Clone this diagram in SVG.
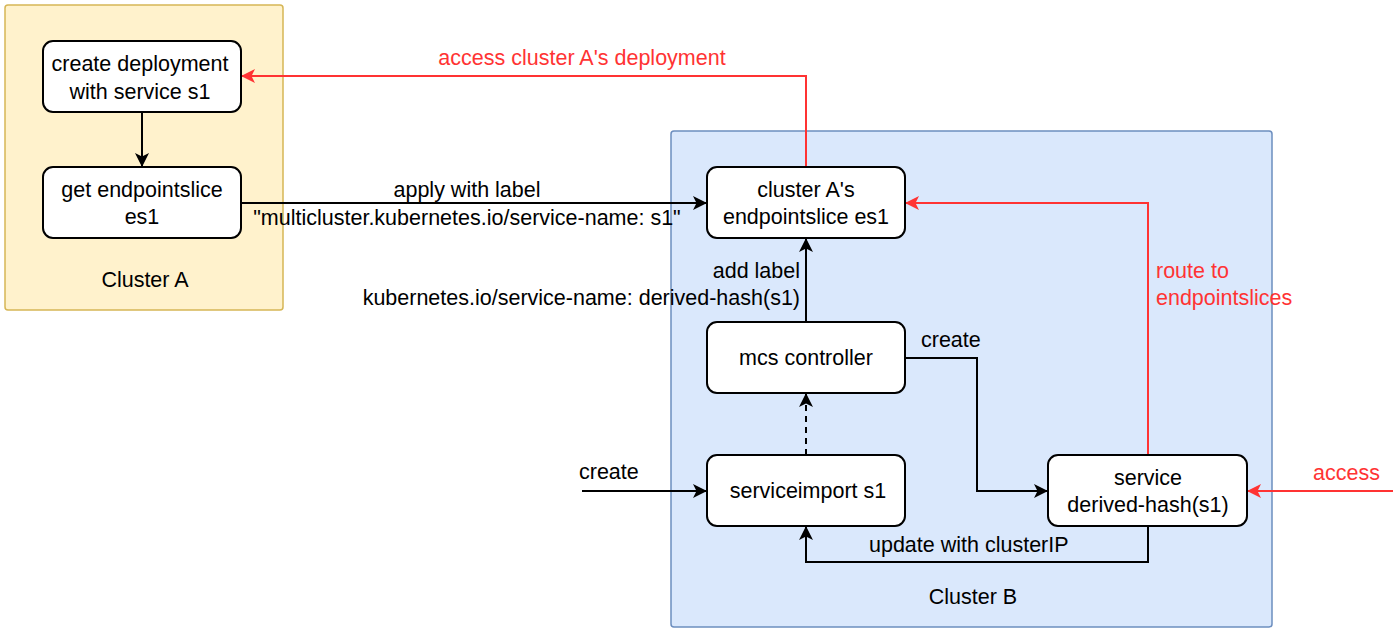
<svg xmlns="http://www.w3.org/2000/svg" width="1393" height="635" viewBox="0 0 1393 635">
<style>
text{font-family:"Liberation Sans",Arial,sans-serif;font-size:21.5px;fill:#000}
.c{text-anchor:middle}
.r{fill:#ff3333}
.node{fill:#fff;stroke:#000;stroke-width:2}
.e{fill:none;stroke:#000;stroke-width:2}
.re{fill:none;stroke:#ff3333;stroke-width:2}
</style>
<defs>
<marker id="ab" viewBox="0 0 14 14" refX="13" refY="7" markerWidth="14" markerHeight="14" markerUnits="userSpaceOnUse" orient="auto">
<path d="M0,0 L14,7 L0,14 L3.5,7 Z" fill="#000"/>
</marker>
<marker id="ar" viewBox="0 0 14 14" refX="13" refY="7" markerWidth="14" markerHeight="14" markerUnits="userSpaceOnUse" orient="auto">
<path d="M0,0 L14,7 L0,14 L3.5,7 Z" fill="#ff3333"/>
</marker>
</defs>
<g id="clusterA">
<rect x="5" y="5" width="278" height="305" rx="3" fill="#fff2cc" stroke="#d6b656" stroke-width="1.5"/>
<text class="c" x="145" y="287">Cluster A</text>
</g>
<g id="clusterB">
<rect x="671" y="131" width="601" height="496" rx="3" fill="#dae8fc" stroke="#6c8ebf" stroke-width="1.5"/>
<text class="c" x="973" y="604">Cluster B</text>
</g>
<g id="connectors">
<path class="e" d="M142,112 V166" marker-end="url(#ab)"/>
<path class="e" d="M241,203 H706" marker-end="url(#ab)"/>
<text class="c" x="467" y="197">apply with label</text>
<text class="c" x="467" y="225">"multicluster.kubernetes.io/service-name: s1"</text>
<path class="e" d="M806,322 V239" marker-end="url(#ab)"/>
<text x="800" y="278" text-anchor="end">add label</text>
<text x="800" y="305" text-anchor="end">kubernetes.io/service-name: derived-hash(s1)</text>
<path class="e" d="M806,455 V394" stroke-dasharray="6,5" marker-end="url(#ab)"/>
<path class="e" d="M582,491 H706" marker-end="url(#ab)"/>
<text x="579" y="479">create</text>
<path class="e" d="M905,358 H977 V491 H1047" marker-end="url(#ab)"/>
<text x="921" y="347">create</text>
<path class="e" d="M1148,526 V562 H806 V527" marker-end="url(#ab)"/>
<text x="869" y="552">update with clusterIP</text>
<path class="re" d="M1148,455 V203 H906" marker-end="url(#ar)"/>
<text class="r" x="1156" y="278">route to</text>
<text class="r" x="1156" y="305">endpointslices</text>
<path class="re" d="M806,167 V76 H242" marker-end="url(#ar)"/>
<text class="r c" x="582" y="65">access cluster A's deployment</text>
<path class="re" d="M1393,491 H1248" marker-end="url(#ar)"/>
<text class="r" x="1313" y="480">access</text>
</g>
<g id="n-create-deployment">
<rect class="node" x="43" y="41" width="198" height="71" rx="10"/>
<text class="c" x="140" y="71">create deployment</text>
<text class="c" x="140" y="99">with service s1</text>
</g>
<g id="n-get-endpointslice">
<rect class="node" x="43" y="167" width="198" height="71" rx="10"/>
<text class="c" x="142" y="197">get endpointslice</text>
<text class="c" x="142" y="224">es1</text>
</g>
<g id="n-clusterA-es">
<rect class="node" x="707" y="167" width="198" height="71" rx="10"/>
<text class="c" x="806" y="197">cluster A's</text>
<text class="c" x="806" y="224">endpointslice es1</text>
</g>
<g id="n-mcs-controller">
<rect class="node" x="707" y="322" width="198" height="71" rx="10"/>
<text class="c" x="806" y="365">mcs controller</text>
</g>
<g id="n-serviceimport">
<rect class="node" x="707" y="455" width="198" height="71" rx="10"/>
<text class="c" x="808" y="498">serviceimport s1</text>
</g>
<g id="n-service">
<rect class="node" x="1048" y="455" width="199" height="71" rx="10"/>
<text class="c" x="1148" y="485">service</text>
<text class="c" x="1148" y="512">derived-hash(s1)</text>
</g>
</svg>
